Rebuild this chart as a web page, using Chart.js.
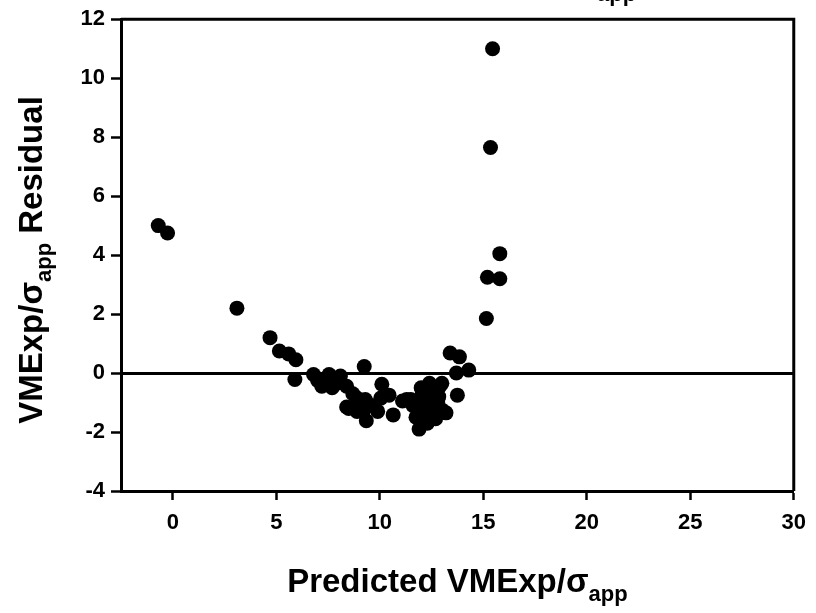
<!DOCTYPE html>
<html>
<head>
<meta charset="utf-8">
<script src="https://cdn.jsdelivr.net/npm/chart.js@4.4.0/dist/chart.umd.min.js"></script>
<style>
  html, body { margin: 0; padding: 0; background: #fff; }
  #wrap { width: 816px; height: 613px; }
</style>
</head>
<body>
<div id="wrap"><canvas id="residualChart" width="816" height="613"></canvas></div>
<script>
// Predicted VMExp/sigma_app vs residual
const predicted = [
  -0.7, -0.25, 3.1, 4.7, 5.15, 5.6, 5.95, 5.9, 6.8, 7.0,
  7.2, 7.55, 7.7, 7.4, 8.1, 8.4, 8.4, 8.7, 8.9, 8.9,
  9.25, 9.3, 9.2, 9.35, 9.6, 9.9, 10.1, 10.05, 10.45, 10.65,
  11.1, 11.3, 11.6, 11.75, 11.9, 11.9, 12.0, 12.05, 12.25, 12.3,
  12.4, 12.5, 12.7, 12.85, 12.9, 13.0, 13.0, 13.2, 12.6, 12.2,
  12.1, 11.5, 13.4, 13.85, 13.7, 14.3, 13.75, 15.15, 15.2, 15.8,
  15.8, 15.35, 15.45, 8.5, 9.0, 12.8, 7.9
];
const residual = [
  5.0, 4.75, 2.2, 1.2, 0.75, 0.65, 0.45, -0.22, -0.05, -0.25,
  -0.45, -0.05, -0.5, -0.3, -0.1, -0.45, -1.15, -0.7, -0.85, -1.3,
  0.22, -0.9, -1.3, -1.62, -1.1, -1.3, -0.38, -0.85, -0.75, -1.42,
  -0.95, -0.9, -1.1, -1.5, -1.9, -1.0, -0.5, -0.7, -1.15, -1.7,
  -0.35, -1.25, -1.55, -0.8, -0.45, -0.35, -1.25, -1.35, -0.6, -0.9,
  -1.4, -0.9, 0.68, 0.55, 0.0, 0.1, -0.75, 1.85, 3.25, 3.2,
  4.05, 7.65, 11.0, -1.2, -1.05, -1.0, -0.35
];
const xTickValues = [0, 5, 10, 15, 20, 25, 30];
const yTickValues = [-4, -2, 0, 2, 4, 6, 8, 10, 12];

const points = predicted.map((x, i) => ({ x: x, y: residual[i] }));
const tickFont = { family: 'Liberation Sans', size: 22, weight: 'bold' };
const titleFont = 'bold 33px "Liberation Sans"';
const subFont = 'bold 22px "Liberation Sans"';

// axis titles with subscript, plus the top/right frame
const framePlugin = {
  id: 'frameAndTitles',
  afterDraw(chart) {
    const c = chart.ctx;
    const a = chart.chartArea;
    c.save();
    c.strokeStyle = '#000';
    c.lineWidth = 3;
    c.beginPath();
    c.moveTo(a.left, a.top);
    c.lineTo(a.right, a.top);
    c.lineTo(a.right, a.bottom);
    c.stroke();

    // draws [text, sub, text] pieces centred on x
    function titleParts(parts, x, y) {
      const widths = parts.map((p, i) => {
        c.font = i % 2 ? subFont : titleFont;
        return c.measureText(p).width;
      });
      let sx = x - widths.reduce((s, w) => s + w, 0) / 2;
      c.textAlign = 'left';
      c.textBaseline = 'alphabetic';
      parts.forEach((p, i) => {
        c.font = i % 2 ? subFont : titleFont;
        c.fillText(p, sx, i % 2 ? y + 9 : y);
        sx += widths[i];
      });
    }

    c.fillStyle = '#000';
    titleParts(['Predicted VMExp/\u03c3', 'app'], (a.left + a.right) / 2, 592);

    c.save();
    c.translate(42, 260);
    c.rotate(-Math.PI / 2);
    titleParts(['VMExp/\u03c3', 'app', ' Residual'], 0, 0);
    c.restore();

    // subscript of the heading above the frame
    c.font = subFont;
    c.textAlign = 'left';
    c.fillText('app', 597, 1);
    c.restore();
  }
};

const ctx = document.getElementById('residualChart').getContext('2d');
const residualChart = new Chart(ctx, {
  type: 'scatter',
  data: {
    datasets: [{
      data: points,
      backgroundColor: '#000',
      borderColor: '#000',
      borderWidth: 0,
      pointRadius: 7.5,
      pointHoverRadius: 7.5
    }]
  },
  options: {
    responsive: false,
    animation: false,
    layout: { padding: { top: 19, right: 21, left: 0, bottom: 0 } },
    plugins: {
      legend: { display: false },
      tooltip: { enabled: false }
    },
    scales: {
      x: {
        type: 'linear',
        min: -2.5,
        max: 30,
        afterBuildTicks: s => { s.ticks = xTickValues.map(v => ({ value: v })); },
        afterFit: s => { s.height = 122; },
        border: { display: true, color: '#000', width: 3 },
        grid: { color: 'transparent', tickColor: '#000', tickLength: 9, tickWidth: 2.5 },
        ticks: { color: '#000', font: tickFont, padding: 10, maxRotation: 0 }
      },
      y: {
        type: 'linear',
        min: -4,
        max: 12,
        afterBuildTicks: s => { s.ticks = yTickValues.map(v => ({ value: v })); },
        afterFit: s => { s.width = 121; },
        border: { display: true, color: '#000', width: 3 },
        grid: {
          color: c => (c.tick && c.tick.value === 0 ? '#000' : 'transparent'),
          lineWidth: 3,
          tickColor: '#000',
          tickLength: 10,
          tickWidth: 2.5
        },
        ticks: { color: '#000', font: tickFont, padding: 6 }
      }
    }
  },
  plugins: [framePlugin]
});
</script>
</body>
</html>
